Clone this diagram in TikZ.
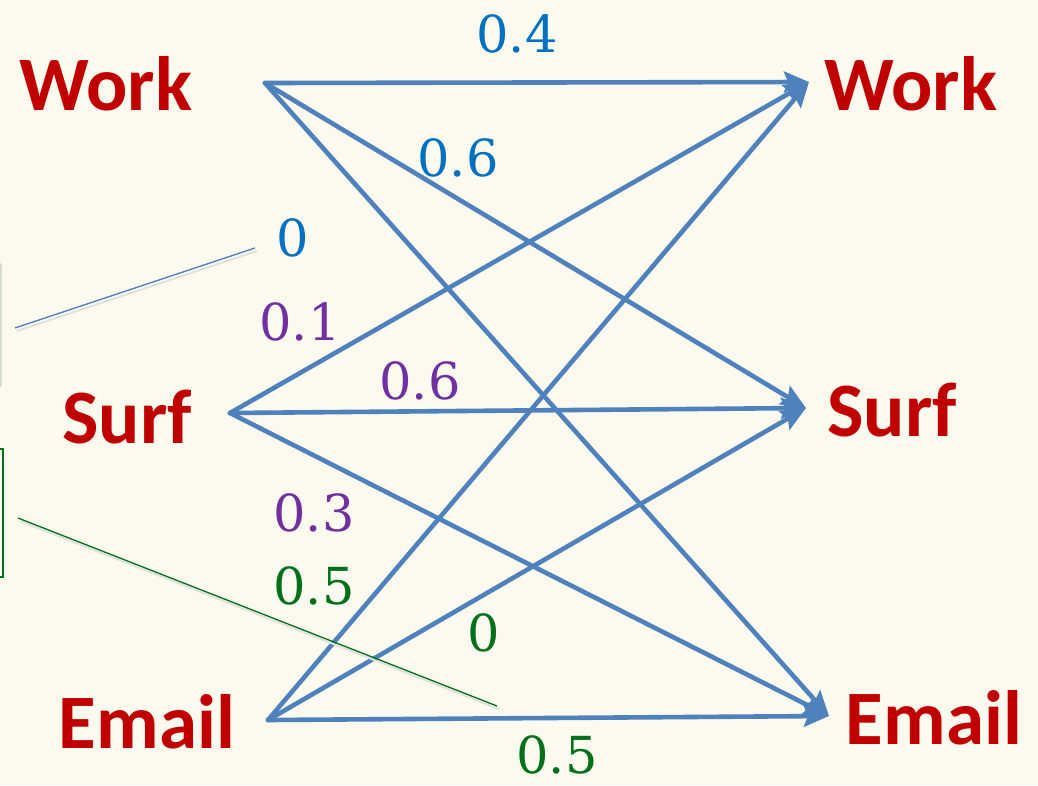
\documentclass[tikz,border=0pt]{standalone}
\usepackage{fontspec}
\usetikzlibrary{arrows.meta}
\newfontfamily\wordfont{Carlito}
\newfontfamily\numfont{DejaVu Serif}
\definecolor{bgc}{HTML}{FCFAEE}
\definecolor{arrc}{HTML}{4F81BD}
\definecolor{redc}{HTML}{C00000}
\definecolor{bluec}{HTML}{0070C0}
\definecolor{purpc}{HTML}{7030A0}
\definecolor{greenc}{HTML}{00701A}
\begin{document}
\begin{tikzpicture}[x=1pt,y=-1pt,
  word/.style={text=redc,font=\wordfont\bfseries\fontsize{77}{80}\selectfont,inner sep=0pt},
  num/.style={font=\numfont\fontsize{51}{56}\selectfont,inner sep=0pt},
  trans/.style={draw=arrc,line width=4.6pt,line cap=round,-{Stealth[length=25pt,width=21pt,inset=4pt]}},
]
\fill[bgc] (0,0) rectangle (1038,785);
\useasboundingbox (0,0) rectangle (1038,785);
% partial boxes at the left edge
\draw[gray!40,line width=1.2pt,rounded corners=4pt] (-60,262) rectangle (1,388);
\draw[greenc,line width=1.2pt] (-60,449) rectangle (3,577);
% endpoints
\coordinate (wl) at (265,83);
\coordinate (sl) at (230,413);
\coordinate (el) at (268,720);
\coordinate (wr) at (809,82);
\coordinate (sr) at (806,408);
\coordinate (er) at (829,716);
% words
\node[word] (Wl) at (106,84) {Work};
\node[word] (Sl) at (127,417) {Surf};
\node[word] (El) at (147,722) {Email};
\node[word] (Wr) at (911,84) {Work};
\node[word] (Sr) at (892,410) {Surf};
\node[word] (Er) at (934,718) {Email};
% transitions
\draw[trans] (wl) -- (wr);
\draw[trans] (wl) -- (sr);
\draw[trans] (wl) -- (er);
\draw[trans] (sl) -- (wr);
\draw[trans] (sl) -- (sr);
\draw[trans] (sl) -- (er);
\draw[trans] (el) -- (wr);
\draw[trans] (el) -- (sr);
\draw[trans] (el) -- (er);
% probabilities
\node[num,text=bluec] (p1) at (517,34) {0.4};
\node[num,text=bluec] (p2) at (458,158) {0.6};
\node[num,text=bluec] (p3) at (293,238) {0};
\node[num,text=purpc] (p4) at (300,322) {0.1};
\node[num,text=purpc] (p5) at (420,381) {0.6};
\node[num,text=purpc] (p6) at (314,513) {0.3};
\node[num,text=greenc] (p7) at (314,586) {0.5};
\node[num,text=greenc] (p8) at (484,633) {0};
\node[num,text=greenc] (p9) at (557,755) {0.5};
% callout lines
\coordinate (c1) at (15,328);
\coordinate (c2) at (18,518);
\draw[black!12,line width=2pt] ([shift={(2,3)}]c1) -- ([shift={(2,3)}]255,248);
\draw[arrc,line width=1.3pt] (c1) -- (255,248);
\draw[black!12,line width=2pt] ([shift={(2,3)}]c2) -- ([shift={(2,3)}]497,706);
\draw[greenc,line width=1.3pt] (c2) -- (497,706);
\end{tikzpicture}
\end{document}
